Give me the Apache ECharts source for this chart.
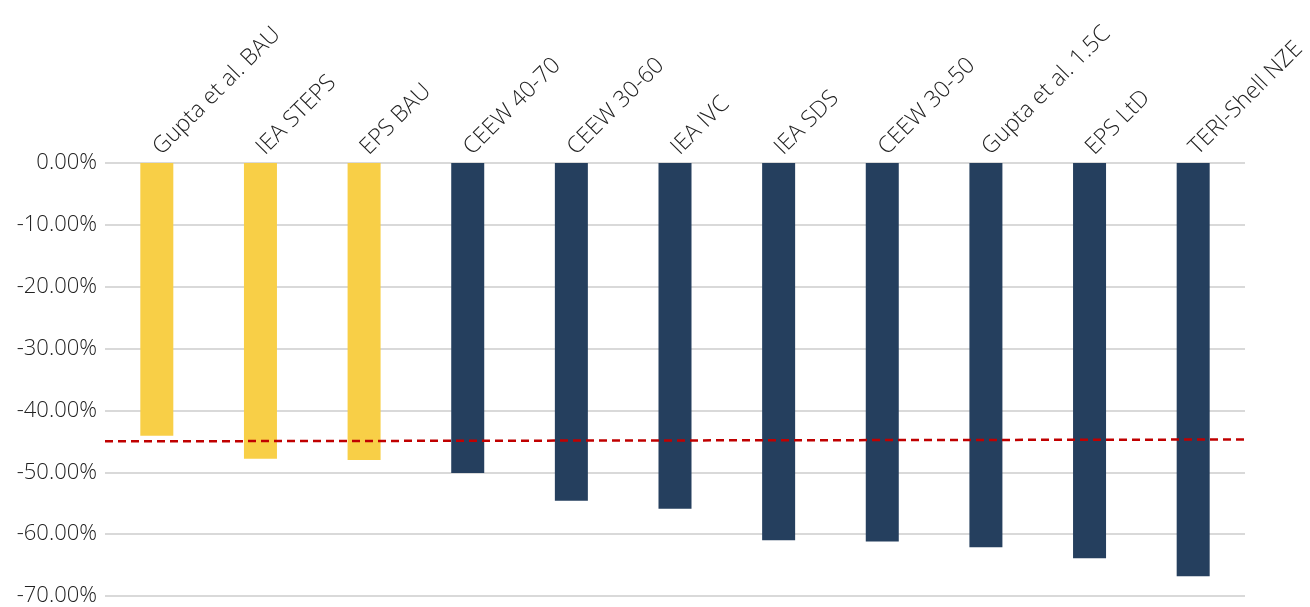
<!DOCTYPE html>
<html>
<head>
<meta charset="utf-8">
<script src="https://cdn.jsdelivr.net/npm/echarts@6/dist/echarts.min.js"></script>
<style>html,body{margin:0;padding:0;background:#fff}#c{width:1310px;height:607px}</style>
</head>
<body>
<div id="c"></div>
<script>
const categories = ["Gupta et al. BAU","IEA STEPS","EPS BAU","CEEW 40-70","CEEW 30-60","IEA IVC","IEA SDS","CEEW 30-50","Gupta et al. 1.5C","EPS LtD","TERI-Shell NZE"];
const values = [-44.1,-47.8,-48.0,-50.1,-54.6,-55.9,-61.0,-61.2,-62.1,-63.9,-66.8];
const groups = ["bau","bau","bau","pol","pol","pol","pol","pol","pol","pol","pol"];
const refLine = [[0,-45.0],[11,-44.7]];
const groupColors = {bau:"#F8CF47", pol:"#253F5E"};

const chart = echarts.init(document.getElementById('c'));
const font = "'Open Sans', sans-serif";
chart.setOption({
  animation:false,
  grid:{left:105,right:65,top:163,bottom:8,containLabel:false},
  xAxis:[{
    type:'category', data:categories, position:'top',
    axisLine:{show:false}, axisTick:{show:false},
    axisLabel:{rotate:45, interval:0, fontSize:23, color:'#222', fontFamily:font, fontWeight:300, margin:12}
  },{
    type:'value', min:0, max:11, show:false
  }],
  yAxis:{
    type:'value', min:-70, max:0, interval:10,
    axisLine:{show:false}, axisTick:{show:false},
    axisLabel:{formatter:v=>v.toFixed(2)+'%', fontSize:22, color:'#222', fontFamily:font, fontWeight:300, margin:8},
    splitLine:{lineStyle:{color:'#d9d9d9', width:2}}
  },
  series:[{
    type:'bar', xAxisIndex:0, barWidth:33,
    data:values.map((v,i)=>({value:v, itemStyle:{color:groupColors[groups[i]]}}))
  },{
    type:'line', xAxisIndex:1, data:refLine, symbol:'none', z:5,
    lineStyle:{color:'#C00000', width:2.5, type:[8,5]}
  }]
});
</script>
</body>
</html>
